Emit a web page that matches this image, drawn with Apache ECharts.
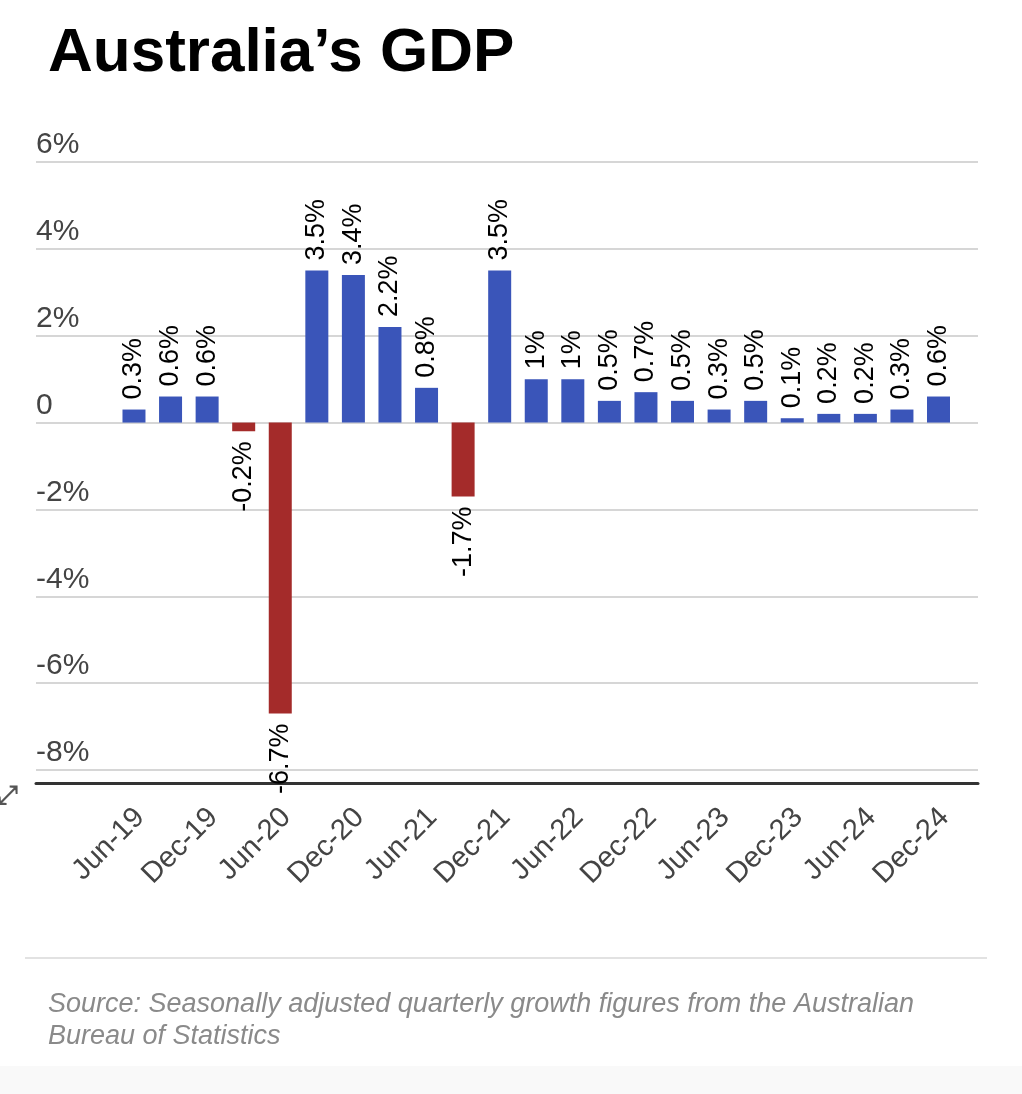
<!DOCTYPE html>
<html>
<head>
<meta charset="utf-8">
<script src="https://cdn.jsdelivr.net/npm/echarts@6/dist/echarts.min.js"></script>
<style>
html, body { margin: 0; padding: 0; background: #fff; }
#chart { width: 1022px; height: 1094px; }
</style>
</head>
<body>
<div id="chart"></div>
<script>
// quarterly GDP growth, seasonally adjusted
var quarters = ['Jun-19', 'Sep-19', 'Dec-19', 'Mar-20', 'Jun-20', 'Sep-20', 'Dec-20', 'Mar-21',
    'Jun-21', 'Sep-21', 'Dec-21', 'Mar-22', 'Jun-22', 'Sep-22', 'Dec-22', 'Mar-23',
    'Jun-23', 'Sep-23', 'Dec-23', 'Mar-24', 'Jun-24', 'Sep-24', 'Dec-24'];
var growth = [0.3, 0.6, 0.6, -0.2, -6.7, 3.5, 3.4, 2.2, 0.8, -1.7, 3.5, 1, 1, 0.5, 0.7, 0.5,
    0.3, 0.5, 0.1, 0.2, 0.2, 0.3, 0.6];
var yTicks = [-8, -6, -4, -2, 0, 2, 4, 6];
var yTickLabels = ['-8%', '-6%', '-4%', '-2%', '0', '2%', '4%', '6%'];

var blue = '#3a55b9';
var red = '#a42b2a';
var font = 'Liberation Sans, Arial, sans-serif';

var myChart = echarts.init(document.getElementById('chart'));

var barData = [];
for (var i = 0; i < growth.length; i++) {
    var v = growth[i];
    var neg = v < 0;
    barData.push({
        value: v,
        itemStyle: { color: neg ? red : blue },
        label: {
            position: neg ? 'bottom' : 'top',
            align: neg ? 'right' : 'left',
            verticalAlign: 'middle'
        }
    });
}

var option = {
    animation: false,
    backgroundColor: '#fff',
    grid: [
        // wide grid: gridlines + thick baseline
        { left: 36, right: 44, top: 162, height: 608 },
        // bar grid
        { left: 115.7, right: 65.2, top: 162, height: 608 },
        // same band, nudged right, only for the rotated date labels
        { left: 121.7, right: 59.2, top: 162, height: 608 }
    ],
    xAxis: [{
        gridIndex: 0,
        type: 'category',
        data: [''],
        offset: 13,
        axisLine: { show: true, onZero: false, lineStyle: { color: '#333', width: 3 } },
        axisTick: { show: false },
        axisLabel: { show: false }
    }, {
        gridIndex: 1,
        type: 'category',
        data: quarters,
        axisLine: { show: false },
        axisTick: { show: false },
        axisLabel: { show: false }
    }, {
        gridIndex: 2,
        type: 'category',
        data: quarters,
        axisLine: { show: false },
        axisTick: { show: false },
        axisLabel: {
            interval: 1,
            rotate: 45,
            margin: 43,
            fontSize: 29,
            color: '#444',
            fontFamily: font
        }
    }],
    yAxis: [{
        gridIndex: 0,
        type: 'value',
        min: yTicks[0],
        max: yTicks[yTicks.length - 1],
        interval: 2,
        axisLine: { show: false },
        axisTick: { show: false },
        splitLine: { lineStyle: { color: '#d6d6d6', width: 2 } },
        axisLabel: {
            inside: true,
            margin: 0,
            verticalAlign: 'bottom',
            padding: [0, 0, 2, 0],
            fontSize: 30,
            color: '#444',
            fontFamily: font,
            formatter: function (val) {
                var k = yTicks.indexOf(val);
                return k >= 0 ? yTickLabels[k] : '';
            }
        }
    }, {
        gridIndex: 1,
        type: 'value',
        min: yTicks[0],
        max: yTicks[yTicks.length - 1],
        show: false
    }, {
        gridIndex: 2,
        type: 'value',
        min: yTicks[0],
        max: yTicks[yTicks.length - 1],
        show: false
    }],
    series: [{
        type: 'bar',
        xAxisIndex: 1,
        yAxisIndex: 1,
        barWidth: 23,
        data: barData,
        label: {
            show: true,
            rotate: 90,
            distance: 10,
            fontSize: 27,
            color: '#000',
            fontFamily: font,
            formatter: '{c}%'
        }
    }],
    graphic: [{
        type: 'text',
        x: 48,
        y: 54,
        style: {
            text: 'Australia\u2019s GDP',
            fontSize: 62,
            fontWeight: 'bold',
            fontFamily: font,
            fill: '#000',
            align: 'left',
            verticalAlign: 'middle',
            textAlign: 'left',
            textVerticalAlign: 'middle'
        }
    }, {
        type: 'text',
        x: -3,
        y: 797,
        style: {
            text: '\u2922',
            fontSize: 26,
            fontWeight: 'bold',
            fontFamily: 'DejaVu Sans',
            fill: '#555',
            verticalAlign: 'middle',
            textVerticalAlign: 'middle'
        }
    }, {
        type: 'line',
        shape: { x1: 25, y1: 958, x2: 987, y2: 958 },
        style: { stroke: '#e2e2e2', lineWidth: 2 }
    }, {
        type: 'text',
        x: 48,
        y: 1020,
        style: {
            text: 'Source: Seasonally adjusted quarterly growth figures from the Australian\nBureau of Statistics',
            fontSize: 27,
            fontStyle: 'italic',
            fontFamily: font,
            lineHeight: 32,
            fill: '#8a8a8a',
            verticalAlign: 'middle',
            textVerticalAlign: 'middle'
        }
    }, {
        type: 'rect',
        shape: { x: 0, y: 1066, width: 1022, height: 28 },
        style: { fill: '#f9f9f9' },
        z: -1
    }]
};
myChart.setOption(option);
</script>
</body>
</html>
